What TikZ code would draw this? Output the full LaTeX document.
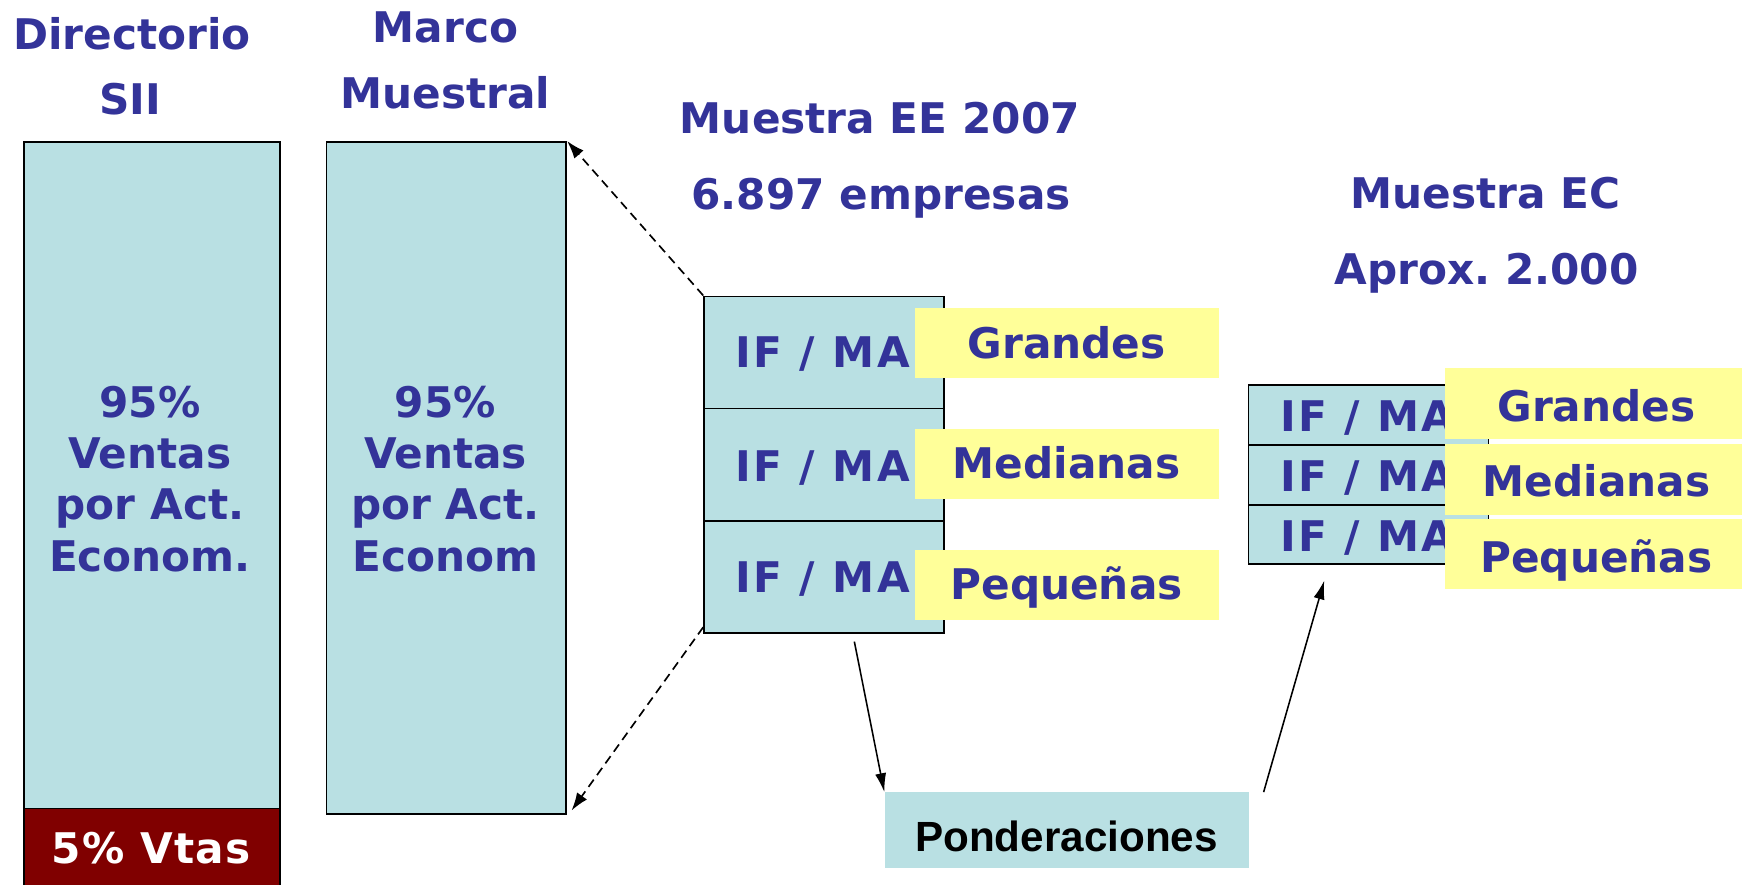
\documentclass[tikz,border=0pt]{standalone}
\usepackage{fontspec}
\setmainfont{DejaVu Sans}
\newfontfamily\arialfont{Liberation Sans}
\newfontfamily\spacedfont[LetterSpace=6]{DejaVu Sans}
\newfontfamily\vtasfont[LetterSpace=3]{DejaVu Sans}
\usetikzlibrary{arrows.meta,calc}
\definecolor{navy}{RGB}{51,51,153}
\definecolor{tealfill}{RGB}{185,224,227}
\definecolor{yel}{RGB}{255,255,153}
\definecolor{darkred}{RGB}{128,0,0}
\frenchspacing
\begin{document}
\begin{tikzpicture}[x=1pt,y=-1pt,
  bigfont/.style={font=\fontsize{38}{46}\selectfont\bfseries},
  title/.style={bigfont,text=navy,anchor=base,inner sep=0pt},
  ifma/.style={font=\fontsize{38}{46}\selectfont\bfseries\spacedfont,text=navy,anchor=base west,inner sep=0pt},
  tealbox/.style={draw=black,line width=1.5pt,fill=tealfill,inner sep=0pt,anchor=north west},
  redbox/.style={draw=black,line width=1.5pt,fill=darkred,inner sep=0pt,anchor=north west},
  yelbox/.style={fill=yel,inner sep=0pt,anchor=north west},
  pondbox/.style={fill=tealfill,inner sep=0pt,anchor=north west},
  dasharrow/.style={line width=1.5pt,dash pattern=on 8pt off 5pt,-{Latex[length=16pt,width=11pt]}},
  solidarrow/.style={line width=1.4pt,-{Latex[length=17pt,width=10pt]}}]
\useasboundingbox (0,0) rectangle (1568,796);
% titles
\node[title] (t1) at (119,45) {Directorio};
\node[title] (t2) at (117,103) {SII};
\node[title] (t3) at (401,38) {Marco};
\node[title] (t4) at (401,98) {Muestral};
\node[title] (t5) at (792,120) {Muestra EE 2007};
\node[title] (t6) at (793,189) {6.897 empresas};
\node[title] (t7) at (1337,188) {Muestra EC};
\node[title] (t8) at (1338,256) {Aprox. 2.000};
% directorio box
\node[redbox,minimum width=230pt,minimum height=80pt] (red) at (21,727) {};
\node[tealbox,minimum width=230pt,minimum height=600pt] (dir) at (21,127) {};
\node[title,text=white,font=\fontsize{38}{46}\selectfont\bfseries\vtasfont] (vtas) at (136,777) {5\% Vtas};
\foreach \t [count=\i] in {95\%,Ventas,por Act.,Econom.}
  \node[title] (dl\i) at (135,330+46*\i) {\t};
% marco box
\node[tealbox,minimum width=216pt,minimum height=605pt] (marco) at (293,127) {};
\foreach \t [count=\i] in {95\%,Ventas,por Act.,Econom}
  \node[title] (ml\i) at (401,330+46*\i) {\t};
% EE stack
\node[tealbox,minimum width=216pt,minimum height=101pt] (ee1) at (633,266) {};
\node[tealbox,minimum width=216pt,minimum height=101pt] (ee2) at (633,367) {};
\node[tealbox,minimum width=216pt,minimum height=101pt] (ee3) at (633,468) {};
\node[ifma] (ei1) at (662,331) {IF / MA};
\node[ifma] (ei2) at (662,433) {IF / MA};
\node[ifma] (ei3) at (662,533) {IF / MA};
\node[yelbox,minimum width=274pt,minimum height=63pt] (ey1) at (823,277) {};
\node[yelbox,minimum width=274pt,minimum height=63pt] (ey2) at (823,386) {};
\node[yelbox,minimum width=274pt,minimum height=63pt] (ey3) at (823,495) {};
\node[title] (eg1) at (960,323) {Grandes};
\node[title] (eg2) at (960,431) {Medianas};
\node[title] (eg3) at (960,540) {Pequeñas};
% EC stack
\node[tealbox,minimum width=216pt,minimum height=54pt] (ec1) at (1123,346) {};
\node[tealbox,minimum width=216pt,minimum height=54pt] (ec2) at (1123,400) {};
\node[tealbox,minimum width=216pt,minimum height=53pt] (ec3) at (1123,454) {};
\node[ifma] (ci1) at (1152,388) {IF / MA};
\node[ifma] (ci2) at (1152,442) {IF / MA};
\node[ifma] (ci3) at (1152,496) {IF / MA};
\node[yelbox,minimum width=272pt,minimum height=64pt] (cy1) at (1300,331) {};
\node[yelbox,minimum width=272pt,minimum height=64pt] (cy2) at (1300,399) {};
\node[yelbox,minimum width=272pt,minimum height=63pt] (cy3) at (1300,467) {};
\node[title] (cg1) at (1437,379) {Grandes};
\node[title] (cg2) at (1437,447) {Medianas};
\node[title] (cg3) at (1437,515) {Pequeñas};
% ponderaciones
\node[pondbox,minimum width=328pt,minimum height=68pt] (pond) at (796,713) {};
\node[anchor=base,inner sep=0pt,font=\fontsize{38}{46}\selectfont\bfseries\arialfont] (pt) at (960,766) {Ponderaciones};
% connectors
\draw[dasharrow] (ee1.north west) -- (marco.north east);
\draw[dasharrow] ($(ee3.south west)+(0,-6)$) -- ($(marco.south east)+(4,-4)$);
\draw[solidarrow] ($(ee3.south west)+(136,7)$) -- (pond.north west);
\draw[solidarrow] ($(pond.north east)+(13,0)$) -- ($(ec3.south west)+(69,14)$);
\end{tikzpicture}
\end{document}
